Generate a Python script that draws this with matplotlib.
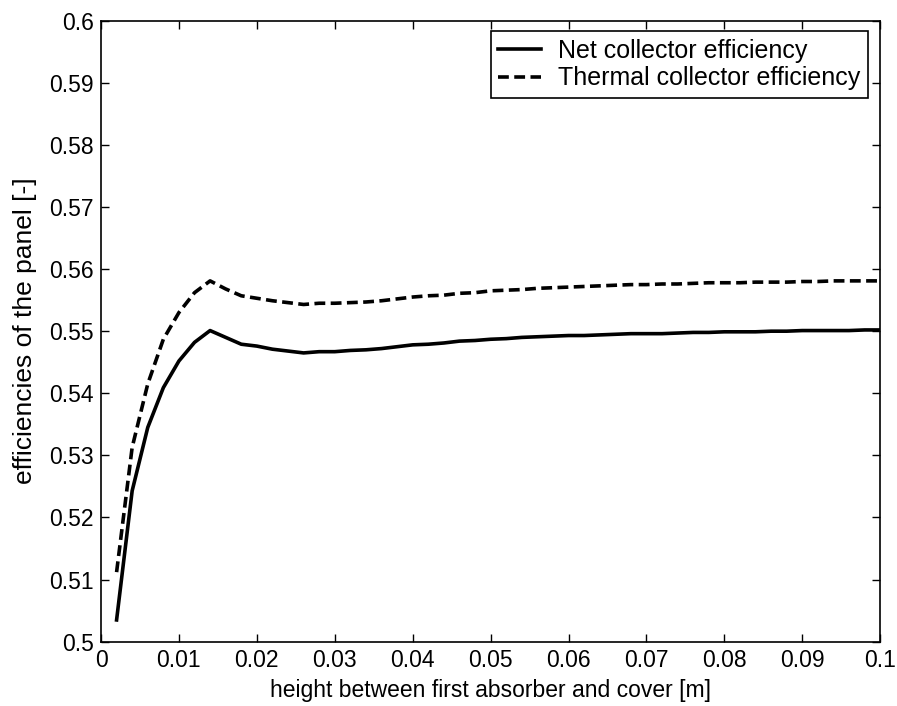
import matplotlib
matplotlib.use("Agg")
import matplotlib.pyplot as plt

plt.rcParams['font.family'] = ['Liberation Sans', 'DejaVu Sans']

height = [0.002, 0.004, 0.006, 0.008, 0.010, 0.012, 0.014, 0.016, 0.018, 0.020,
          0.022, 0.024, 0.026, 0.028, 0.030, 0.032, 0.034, 0.036, 0.038, 0.040,
          0.042, 0.044, 0.046, 0.048, 0.050, 0.052, 0.054, 0.056, 0.058, 0.060,
          0.062, 0.064, 0.066, 0.068, 0.070, 0.072, 0.074, 0.076, 0.078, 0.080,
          0.082, 0.084, 0.086, 0.088, 0.090, 0.092, 0.094, 0.096, 0.098, 0.100]

net_eff = [0.5035, 0.5243, 0.5345, 0.5409, 0.5452, 0.5482, 0.5501, 0.5490, 0.5479, 0.5476,
           0.5471, 0.5468, 0.5465, 0.5467, 0.5467, 0.5469, 0.5470, 0.5472, 0.5475, 0.5478,
           0.5479, 0.5481, 0.5484, 0.5485, 0.5487, 0.5488, 0.5490, 0.5491, 0.5492, 0.5493,
           0.5493, 0.5494, 0.5495, 0.5496, 0.5496, 0.5496, 0.5497, 0.5498, 0.5498, 0.5499,
           0.5499, 0.5499, 0.5500, 0.5500, 0.5501, 0.5501, 0.5501, 0.5501, 0.5502, 0.5502]

thermal_eff = [0.5112, 0.5313, 0.5415, 0.5487, 0.5530, 0.5562, 0.5581, 0.5568, 0.5557, 0.5553,
               0.5549, 0.5546, 0.5543, 0.5545, 0.5545, 0.5546, 0.5547, 0.5549, 0.5552, 0.5555,
               0.5557, 0.5558, 0.5561, 0.5562, 0.5565, 0.5566, 0.5567, 0.5569, 0.5570, 0.5571,
               0.5572, 0.5573, 0.5574, 0.5575, 0.5575, 0.5576, 0.5576, 0.5577, 0.5578, 0.5578,
               0.5578, 0.5579, 0.5579, 0.5579, 0.5580, 0.5580, 0.5581, 0.5581, 0.5581, 0.5581]

xticks = [0, 0.01, 0.02, 0.03, 0.04, 0.05, 0.06, 0.07, 0.08, 0.09, 0.1]
xticklabels = ['0', '0.01', '0.02', '0.03', '0.04', '0.05', '0.06', '0.07', '0.08', '0.09', '0.1']
yticks = [0.5, 0.51, 0.52, 0.53, 0.54, 0.55, 0.56, 0.57, 0.58, 0.59, 0.6]
yticklabels = ['0.5', '0.51', '0.52', '0.53', '0.54', '0.55', '0.56', '0.57', '0.58', '0.59', '0.6']

fig = plt.figure(figsize=(8.97, 7.06), dpi=100)
ax = fig.add_axes([0.1126, 0.0911, 0.9813 - 0.1126, 0.9707 - 0.0911])

ax.plot(height, net_eff, color='black', lw=2.6, label='Net collector efficiency')
ax.plot(height, thermal_eff, color='black', lw=2.6, dashes=(3.0, 1.5),
        label='Thermal collector efficiency')

ax.set_xlim(0, 0.1)
ax.set_ylim(0.5, 0.6)
ax.set_xticks(xticks)
ax.set_xticklabels(xticklabels)
ax.set_yticks(yticks)
ax.set_yticklabels(yticklabels)
ax.tick_params(direction='in', top=True, right=True, length=6, width=1,
               labelsize=16.5, pad=5, colors='black')
for s in ax.spines.values():
    s.set_linewidth(1.2)
    s.set_color('black')

ax.set_xlabel('height between first absorber and cover [m]', fontsize=16.5, labelpad=5)
ax.set_ylabel('efficiencies of the panel [-]', fontsize=19, labelpad=9)

leg = ax.legend(loc='upper right', bbox_to_anchor=(0.984, 0.983), borderaxespad=0,
                fontsize=18, frameon=True, fancybox=False,
                edgecolor='black', framealpha=1, handlelength=1.7,
                borderpad=0.3, labelspacing=0.15, handletextpad=0.7)
leg.get_frame().set_linewidth(1.2)

fig.savefig('out.png', dpi=100)
